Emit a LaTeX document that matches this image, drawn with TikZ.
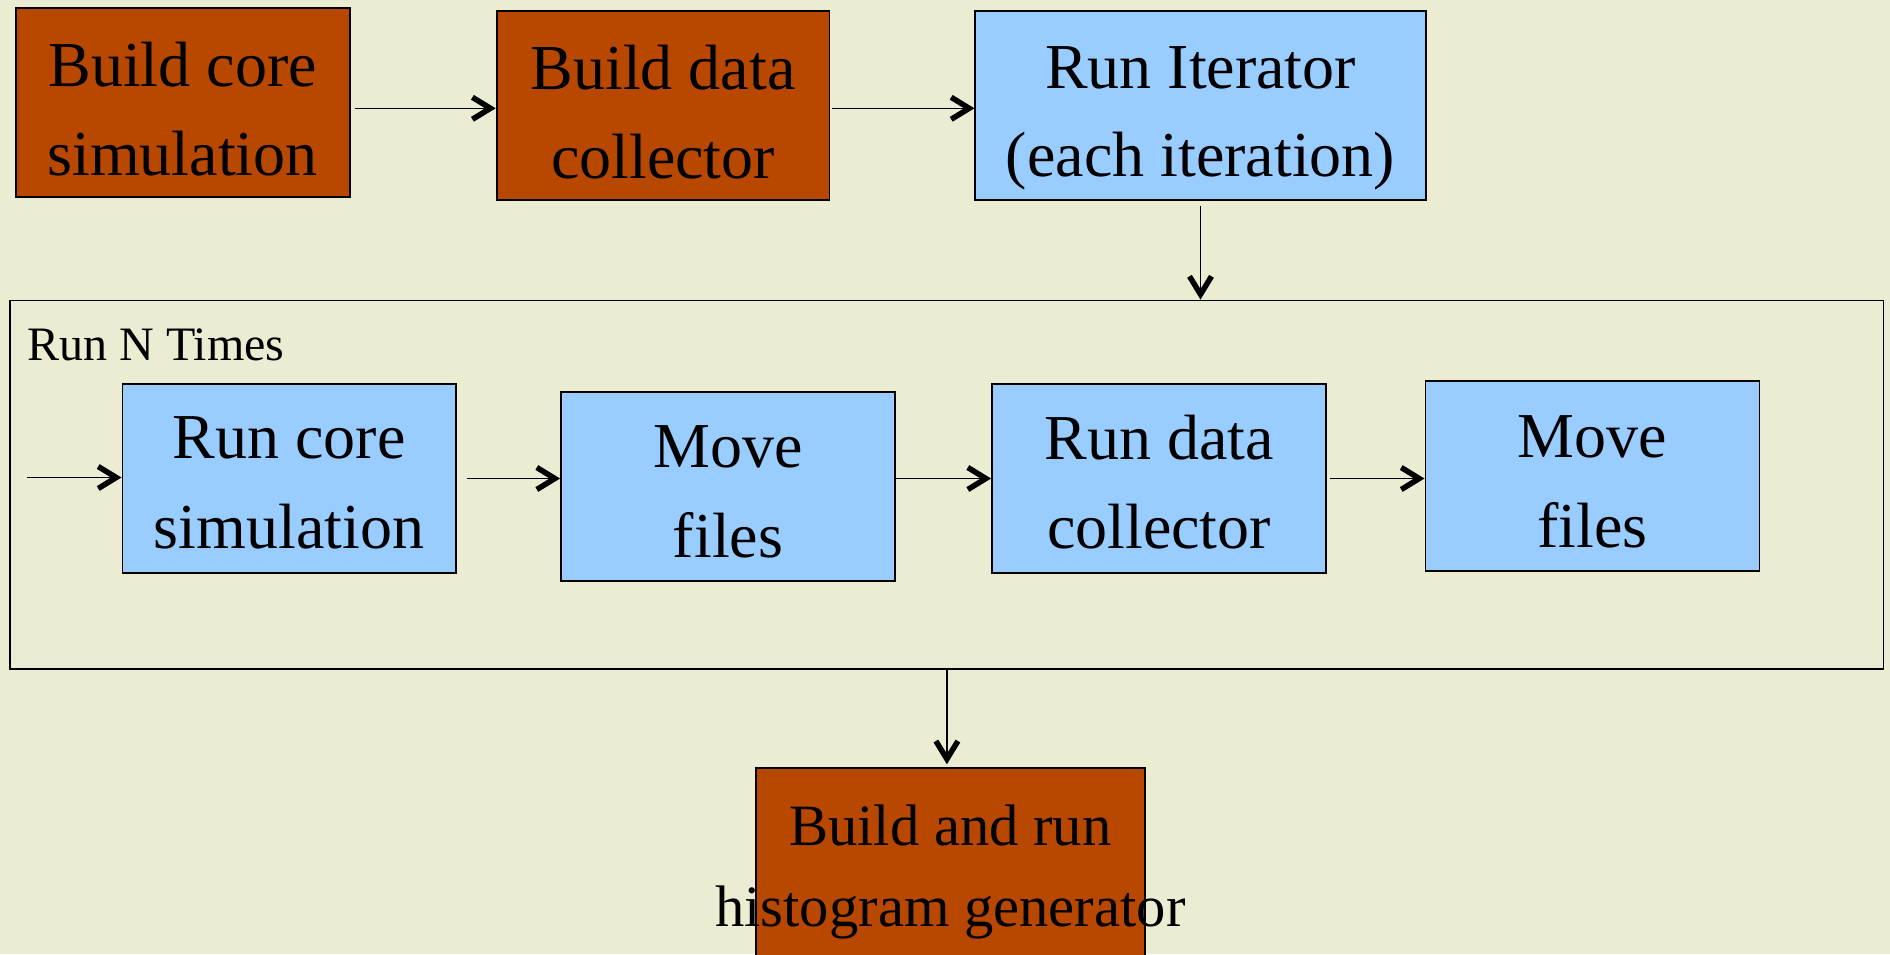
\documentclass[tikz,border=0pt]{standalone}
\usepackage{fontspec}
\setmainfont{Liberation Serif}
\usetikzlibrary{arrows.meta,calc}
\definecolor{paper}{RGB}{236,236,211}
\definecolor{rust}{RGB}{184,71,0}
\definecolor{sky}{RGB}{153,204,255}

\begin{document}
\begin{tikzpicture}[x=1pt,y=-1pt,
  box/.style={draw=black, line width=1.8pt, inner sep=0pt},
  buildbox/.style={box, fill=rust},
  runbox/.style={box, fill=sky},
  big/.style={font=\fontsize{64}{89}\selectfont, anchor=base, inner sep=0pt},
  mid/.style={font=\fontsize{58.6}{82}\selectfont, anchor=base, inner sep=0pt},
  small/.style={font=\fontsize{48}{56}\selectfont, anchor=base west, inner sep=0pt},
  arr/.style={line width=1.6pt, -{Straight Barb[length=18pt,width=22pt,line width=5.5pt]}}]

\useasboundingbox (0,0) rectangle (1890,954);
\clip (0,0) rectangle (1890,954);
\fill[paper] (0,0) rectangle (1890,954);

% top row: build steps and the iterator
\node[buildbox, minimum width=334pt, minimum height=189.6pt] (bcore) at (182.6,102.5) {};
\node[buildbox, minimum width=332.8pt, minimum height=189pt] (bdata) at (663,105.5) {};
\node[runbox, minimum width=450.3pt, minimum height=189.3pt] (iter) at (1200.5,105.6) {};

\node[big] at ($(bcore.center)+(0,-16.5)$) {Build core};
\node[big] at ($(bcore.center)+(0,72.5)$) {simulation};
\node[big] at ($(bdata.center)+(0,-16.5)$) {Build data};
\node[big] at ($(bdata.center)+(0,72.5)$) {collector};
\node[big] at ($(iter.center)+(0,-17.3)$) {Run Iterator};
\node[big] at ($(iter.center)+(0,71.1)$) {(each iteration)};

% loop frame
\node[box, minimum width=1873.2pt, minimum height=368.5pt] (loop) at (946.9,484.75) {};
\node[small] (loopname) at (27.3,360.7) {Run N Times};

% steps repeated inside the loop
\node[runbox, minimum width=333.2pt, minimum height=189pt] (rcore) at (289,478.5) {};
\node[runbox, minimum width=334pt, minimum height=189pt] (moveA) at (728,486.5) {};
\node[runbox, minimum width=334pt, minimum height=189pt] (rdata) at (1159,478.5) {};
\node[runbox, minimum width=334pt, minimum height=190pt] (moveB) at (1592.4,476) {};

\node[big] at ($(rcore.center)+(0,-20.5)$) {Run core};
\node[big] at ($(rcore.center)+(0,69.5)$) {simulation};
\node[big] at ($(moveA.center)+(0,-19.5)$) {Move};
\node[big] at ($(moveA.center)+(0,70.5)$) {files};
\node[big] at ($(rdata.center)+(0,-19.5)$) {Run data};
\node[big] at ($(rdata.center)+(0,69.5)$) {collector};
\node[big] at ($(moveB.center)+(0,-19)$) {Move};
\node[big] at ($(moveB.center)+(0,71)$) {files};

% final step
\node[buildbox, minimum width=389.1pt, minimum height=232.3pt] (hist) at (950.35,883.85) {};
\node[mid] at (950.35,845) {Build and run};
\node[mid] at (950.35,926.7) {histogram generator};

% connectors
\coordinate (entry) at (27.3,477.5);
\draw[arr] ($(bcore.east)+(4.4,5.8)$) -- ($(bdata.west)+(0,2.8)$);
\draw[arr] ($(bdata.east)+(1.5,2.8)$) -- ($(iter.west)+(0,2.7)$);
\draw[arr] ($(iter.south)+(0,4.7)$) -- (loop.north -| iter.south);
\draw[arr] (entry) -- (entry -| rcore.west);
\draw[arr] ($(rcore.east)+(10,0)$) -- (rcore.east -| moveA.west);
\draw[arr] (moveA.east |- rdata.west) -- (rdata.west);
\draw[arr] ($(rdata.east)+(3.5,0)$) -- (rdata.east -| moveB.west);
\draw[arr] (loop.south) -- ($(loop.south |- hist.north)+(0,-2.5)$);
\end{tikzpicture}
\end{document}
